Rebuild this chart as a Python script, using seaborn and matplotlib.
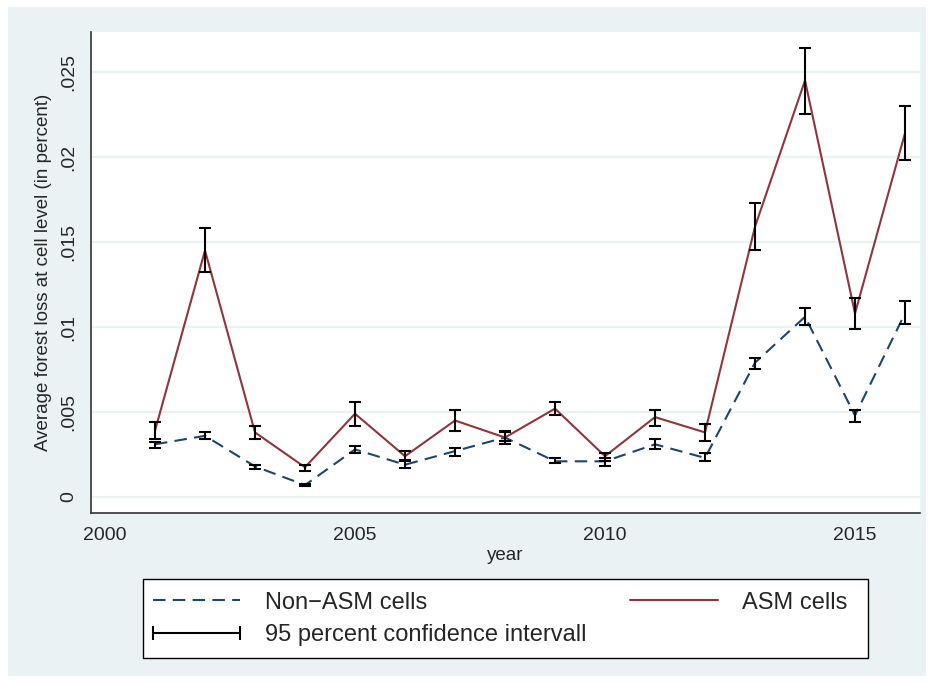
import numpy as np
import pandas as pd
import matplotlib.pyplot as plt
import seaborn as sns
from matplotlib.lines import Line2D
from matplotlib.patches import Rectangle
from matplotlib.ticker import FuncFormatter

years = list(range(2001, 2017))

# ASM cells: mean and 95% CI
asm_mean = [0.0039, 0.0145, 0.0038, 0.00175, 0.0049, 0.0024, 0.0045, 0.0035,
            0.0052, 0.0024, 0.0047, 0.0038, 0.0159, 0.0245, 0.0108, 0.0214]
asm_lo = [0.0034, 0.01325, 0.0034, 0.00155, 0.0042, 0.0021, 0.0039, 0.0031,
          0.0048, 0.0021, 0.0042, 0.0033, 0.0145, 0.0225, 0.0099, 0.0198]
asm_hi = [0.0044, 0.0158, 0.0042, 0.0019, 0.0056, 0.0027, 0.0051, 0.0039,
          0.0056, 0.0026, 0.0051, 0.0043, 0.0173, 0.0264, 0.0117, 0.0230]

# Non-ASM cells
non_mean = [0.0031, 0.0036, 0.0018, 0.0007, 0.0028, 0.0019, 0.0027, 0.0035,
            0.0021, 0.0021, 0.0031, 0.0023, 0.0079, 0.0106, 0.0048, 0.0108]
non_lo = [0.0029, 0.0034, 0.00165, 0.00065, 0.0026, 0.0017, 0.0024, 0.0033,
          0.0020, 0.0018, 0.0028, 0.0021, 0.0075, 0.0101, 0.0044, 0.0102]
non_hi = [0.00325, 0.0038, 0.0019, 0.00075, 0.0030, 0.0022, 0.0029, 0.0038,
          0.0023, 0.0023, 0.0034, 0.0026, 0.0082, 0.0111, 0.0051, 0.0115]

groups = ["Non\u2212ASM cells", "ASM cells"]
navy = "#1a476f"
maroon = "#90353b"
bg = "#EAF2F3"

sns.set_style("white")
plt.rcParams['font.family'] = ['Liberation Sans', 'DejaVu Sans']

DF = pd.DataFrame({
    "year": years * 2,
    "loss": non_mean + asm_mean,
    "group": [groups[0]] * len(years) + [groups[1]] * len(years),
})

W, H = 934, 683
fig = plt.figure(figsize=(W/100, H/100), dpi=100)
fig.patch.set_facecolor("white")
fig.patches.append(Rectangle((8/W, 7/H), 918/W, 669/H, transform=fig.transFigure,
                             facecolor=bg, edgecolor="none", zorder=-10))
# legend frame
fig.patches.append(Rectangle((143/W, 1-658/H), (868-143)/W, (658-579)/H,
                             transform=fig.transFigure, facecolor="white",
                             edgecolor="black", lw=1.0, zorder=1))

ax = fig.add_axes([91/W, 1-513/H, (920-91)/W, (513-32)/H])
ax.set_facecolor("white")

sns.lineplot(data=DF, x="year", y="loss", hue="group", style="group",
             palette={groups[0]: navy, groups[1]: maroon},
             dashes={groups[0]: (6, 3.5), groups[1]: ""},
             lw=1.5, ax=ax, legend=False)

for m, lo, hi in [(non_mean, non_lo, non_hi), (asm_mean, asm_lo, asm_hi)]:
    m = np.array(m); lo = np.array(lo); hi = np.array(hi)
    ax.errorbar(years, m, yerr=[m - lo, hi - m], fmt="none", ecolor="black",
                elinewidth=1.5, capsize=4.3, capthick=1.5, zorder=3)

ax.set_xlim(1999.72, 2016.3)
ax.set_ylim(-0.00094, 0.02735)
ax.set_xticks([2000, 2005, 2010, 2015])
ax.set_yticks([0, 0.005, 0.01, 0.015, 0.02, 0.025])
ax.yaxis.set_major_formatter(FuncFormatter(
    lambda v, p: "0" if abs(v) < 1e-12 else f"{v:.3f}".lstrip("0").rstrip("0")))
ax.tick_params(axis="both", direction="out", length=6, width=1, color="#333333",
               labelsize=14, pad=4)
for lab in ax.get_yticklabels():
    lab.set_rotation(90)
    lab.set_va("center")
ax.yaxis.grid(True, color=bg, lw=1.6)
ax.xaxis.grid(False)
for s in ["top", "right"]:
    ax.spines[s].set_visible(False)
for s in ["left", "bottom"]:
    ax.spines[s].set_color("#333333")
    ax.spines[s].set_linewidth(1.2)

ax.set_xlabel("year", fontsize=13.5, labelpad=2)
ax.set_ylabel("Average forest loss at cell level (in percent)", fontsize=13.5, labelpad=6)

handles = [
    Line2D([], [], color=navy, lw=1.5, dashes=(6, 3.5)),
    Line2D([], [], color="black", lw=1.5, marker="|", markersize=10, markeredgewidth=1.5),
    Line2D([], [], color=maroon, lw=1.5),
]
labels = [groups[0], "95 percent confidence intervall", groups[1]]
leg = fig.legend(handles, labels, ncol=2, mode="expand", numpoints=2,
                 bbox_to_anchor=(146/W, 1-657/H, (847-146)/W, (657-581)/H),
                 loc="center", fontsize=17, frameon=False,
                 handlelength=4.3, handletextpad=0.72,
                 labelspacing=0.45, borderpad=0, borderaxespad=0)
leg.set_zorder(2)

fig.savefig("out.png", dpi=100, facecolor=fig.get_facecolor())
